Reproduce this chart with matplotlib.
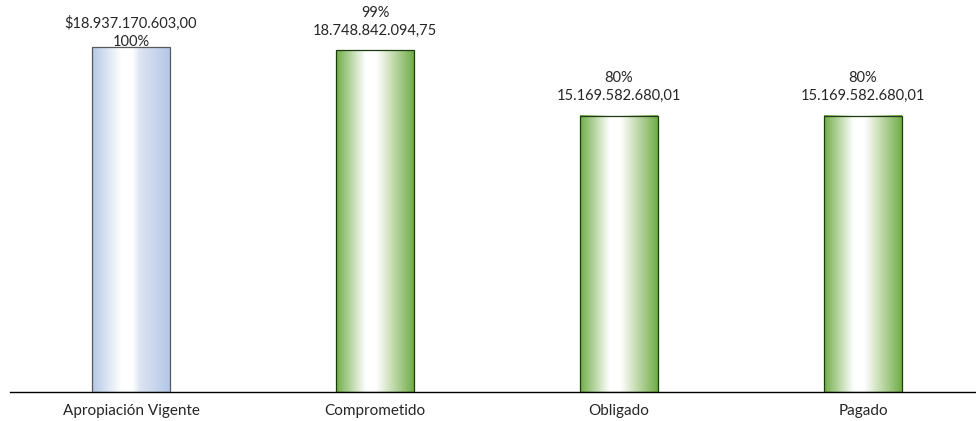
import numpy as np
import matplotlib.pyplot as plt
from matplotlib.colors import LinearSegmentedColormap
from matplotlib.patches import Rectangle

plt.rcParams['font.family'] = ['Lato', 'DejaVu Sans']

categorias = ["Apropiación Vigente", "Comprometido", "Obligado", "Pagado"]
valores = [18937170603.00, 18748842094.75, 15169582680.01, 15169582680.01]
etiquetas = ["$18.937.170.603,00\n100%", "99%\n18.748.842.094,75",
             "80%\n15.169.582.680,01", "80%\n15.169.582.680,01"]
colores = ["#B4C7E7", "#70AD47", "#70AD47", "#70AD47"]
bordes = ["#595959", "#1E3A0F", "#1E3A0F", "#1E3A0F"]

fig = plt.figure(figsize=(9.76, 4.21), dpi=100)
ax = fig.add_axes([10/976, 1 - 392/421, 966/976, 392/421])

ancho = 0.316
grad = np.linspace(0, 1, 256).reshape(1, -1)
for i, (v, c, b) in enumerate(zip(valores, colores, bordes)):
    # gradiente horizontal: color en los bordes, blanco en el centro
    cmap = LinearSegmentedColormap.from_list(
        "g%d" % i, [(0, c), (0.38, "white"), (0.52, "white"), (0.62, "#E4EDD8" if i else "#DCE4F2"), (1, c)])
    ax.imshow(grad, cmap=cmap, aspect="auto", extent=[i - ancho/2, i + ancho/2, 0, v], zorder=2)
    ax.add_patch(Rectangle((i - ancho/2, 0), ancho, v, fill=False, edgecolor=b, lw=0.9, zorder=3))
    desplaz = -1.5 if i == 0 else 9
    ax.annotate(etiquetas[i], (i, v), xytext=(0, desplaz), textcoords="offset points",
                ha="center", va="bottom", fontsize=10.5, color="#262626", linespacing=1.4, zorder=4)

ax.set_xlim(-0.496, 3.463)
ax.set_ylim(0, 18937170603.00 * 392 / 345)
ax.set_xticks(range(len(categorias)))
ax.set_xticklabels(categorias, fontsize=11, color="#262626")
ax.tick_params(axis="x", length=0, pad=9)
ax.set_yticks([])
for s in ["top", "left", "right"]:
    ax.spines[s].set_visible(False)
ax.spines["bottom"].set_color("black")
ax.spines["bottom"].set_linewidth(1)

fig.savefig("out.png", dpi=100)
